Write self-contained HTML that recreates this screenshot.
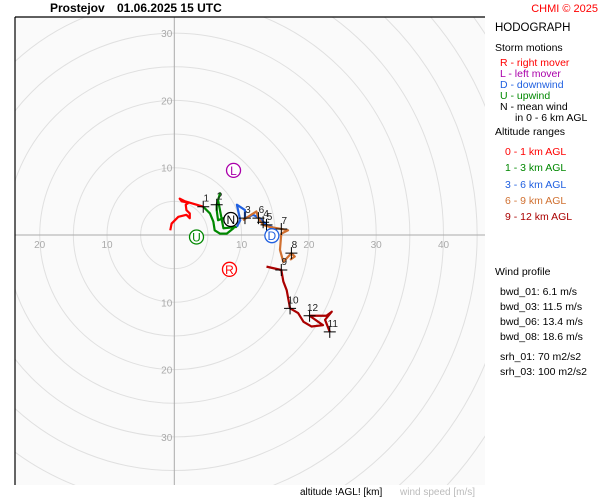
<!DOCTYPE html>
<html><head><meta charset="utf-8"><style>
html,body{margin:0;padding:0;background:#fff;font-family:"Liberation Sans",sans-serif;width:600px;height:500px;overflow:hidden}
svg{display:block}
svg text{font-family:"Liberation Sans",sans-serif}
</style></head><body>
<svg id="c" width="600" height="500" viewBox="0 0 600 500">
<defs><clipPath id="pc"><rect x="15" y="17" width="470" height="468"/></clipPath></defs>
<rect x="0" y="0" width="600" height="500" fill="#fff"/>
<rect x="15" y="17" width="470" height="468" fill="#fafafa"/>
<g id="rings" clip-path="url(#pc)"></g>
<g id="axes"></g>
<g id="series" clip-path="url(#pc)"></g>
<g id="marks"></g>
<line x1="15" y1="17" x2="15" y2="485" stroke="#000" stroke-width="1.2"/>
<line x1="15" y1="17" x2="485" y2="17" stroke="#000" stroke-width="1.2"/>
<text x="50" y="12" font-size="12" font-weight="bold">Prostejov</text>
<text x="117" y="12" font-size="12" font-weight="bold">01.06.2025 15 UTC</text>
<text x="598" y="12" font-size="11" fill="#f00" text-anchor="end">CHMI © 2025</text>
<g font-size="10.5">
<text x="495" y="31" font-size="11.5">HODOGRAPH</text>
<text x="495" y="51">Storm motions</text>
<text x="500" y="66" fill="#f00">R - right mover</text>
<text x="500" y="77" fill="#a0a">L - left mover</text>
<text x="500" y="88" fill="#2060e0">D - downwind</text>
<text x="500" y="99" fill="#080">U - upwind</text>
<text x="500" y="110">N - mean wind</text>
<text x="515" y="121">in 0 - 6 km AGL</text>
<text x="495" y="135">Altitude ranges</text>
<text x="505" y="155" fill="#f00">0 - 1 km AGL</text>
<text x="505" y="171" fill="#080">1 - 3 km AGL</text>
<text x="505" y="188" fill="#2060e0">3 - 6 km AGL</text>
<text x="505" y="204" fill="#d07030">6 - 9 km AGL</text>
<text x="505" y="220" fill="#a00">9 - 12 km AGL</text>
<text x="495" y="275">Wind profile</text>
<text x="500" y="295">bwd_01: 6.1 m/s</text>
<text x="500" y="310">bwd_03: 11.5 m/s</text>
<text x="500" y="325">bwd_06: 13.4 m/s</text>
<text x="500" y="340">bwd_08: 18.6 m/s</text>
<text x="500" y="360">srh_01: 70 m2/s2</text>
<text x="500" y="375">srh_03: 100 m2/s2</text>
</g>
<text x="300" y="495" font-size="10">altitude !AGL! [km]</text>
<text x="400" y="495" font-size="10" fill="#bbb">wind speed [m/s]</text>
</svg>
<script>
const ringSpeeds=[5,10,15,20,25,30,35,40,45,50,55,60,65,70];
const axisTicks=[10,20,30];
const xTickLabels=[-20,-10,10,20,30,40];
const seg01=[[-0.6,0.7],[-0.4,1.7],[0.6,2.7],[1.8,3.0],[2.3,2.5],[2.3,3.2],[1.8,3.7],[1.7,4.5],[2.1,4.8],[1.1,5.0],[0.8,5.4],[1.6,5.0],[4.3,4.2]];
const seg13=[[4.3,4.2],[5.3,3.2],[5.8,2.0],[6.0,0.7],[6.8,0.2],[7.8,0.2],[8.8,1.0],[8.3,2.0],[7.3,2.5],[6.5,2.2],[6.3,3.7],[6.3,4.5],[6.8,6.2],[6.5,5.2],[7.3,1.0],[9.3,1.2]];
const seg36=[[9.3,1.2],[9.8,2.2],[9.3,4.5],[10.5,3.7],[10.5,2.5],[11.7,3.0],[12.7,2.5],[13.7,1.5],[14.5,1.2],[14.0,0.6]];
const seg69=[[10.2,2.2],[12.2,3.5],[12.5,2.5],[13.2,1.5],[14.2,1.2],[15.9,0.9],[16.9,0.7],[15.9,0.2],[15.7,-2.2],[16.2,-4.0],[17.4,-2.7],[17.9,-3.2],[17.2,-3.7]];
const seg912=[[13.7,-4.7],[15.9,-5.2],[16.2,-6.9],[16.7,-8.2],[17.2,-10.9],[18.4,-11.6],[19.2,-12.9],[20.4,-13.6],[22.1,-13.4],[20.1,-12.0],[22.6,-12.0],[23.4,-11.4],[22.4,-12.6],[23.1,-14.4]];
const levelLabels=["1","2","3","4","5","6","7","8","9","10","11","12"];
const levelU=[4.3,6.3,10.5,13.2,13.7,12.5,15.9,17.4,15.9,17.2,23.1,20.1];
const levelV=[4.2,4.5,2.5,1.9,1.5,2.5,0.9,-2.7,-5.2,-10.9,-14.4,-12.0];
const stormNames=["L","U","R","N","D"];
const stormU=[8.8,3.3,8.2,8.4,14.5];
const stormV=[9.6,-0.3,-5.1,2.3,-0.1];
const stormColors=["#a0a","#080","#f00","#000","#2060e0"];

const CX=174.3,CY=235,K=6.73;
const sx=u=>CX+u*K, sy=v=>CY-v*K;
const NS="http://www.w3.org/2000/svg";
function mk(t,a,p){const e=document.createElementNS(NS,t);for(const k in a)e.setAttribute(k,a[k]);p.appendChild(e);return e;}
const rings=document.getElementById('rings');
ringSpeeds.forEach(s=>{const c=mk('circle',{cx:CX,cy:CY,r:s*K,fill:'none',stroke:'#e0e0e0','stroke-width':1},rings);

});
const ax=document.getElementById('axes');
const xa=mk('line',{x1:15,y1:CY,x2:485,y2:CY,stroke:'#aaa'},ax);


const ya=mk('line',{x1:CX,y1:17,x2:CX,y2:485,stroke:'#aaa'},ax);


axisTicks.forEach(t=>{[t,-t].forEach(v=>{const e=mk('text',{x:CX-2,y:sy(v)+4,'font-size':10,fill:'#aaa','text-anchor':'end'},ax);e.textContent=t;

});});
xTickLabels.forEach(t=>{const e=mk('text',{x:sx(t),y:CY+13,'font-size':10,fill:'#aaa','text-anchor':'middle'},ax);e.textContent=Math.abs(t);

});
const ser=document.getElementById('series');
[[seg01,'#f00','hodo-0-1km'],[seg13,'#080','hodo-1-3km'],[seg36,'#2060e0','hodo-3-6km'],[seg69,'#d07030','hodo-6-9km'],[seg912,'#a00','hodo-9-12km']].forEach(([d,c,n])=>{
const p=mk('polyline',{points:d.map(q=>sx(q[0])+','+sy(q[1])).join(' '),fill:'none',stroke:c,'stroke-width':2.2,'stroke-linejoin':'round'},ser);

});
const mg=document.getElementById('marks');
levelLabels.forEach((l,i)=>{const x=sx(levelU[i]),y=sy(levelV[i]);
const g=mk('g',{},mg);


mk('path',{d:`M${x-6},${y}H${x+6}M${x},${y-6}V${y+6}`,stroke:'#000','stroke-width':1},g);
const t=mk('text',{x:x+3,y:y-5,'font-size':10,fill:'#222','text-anchor':'middle'},g);t.textContent=l;});
stormNames.forEach((n,i)=>{const x=sx(stormU[i]),y=sy(stormV[i]);
const g=mk('g',{},mg);


mk('circle',{cx:x,cy:y,r:7,fill:'#fff',stroke:stormColors[i],'stroke-width':1.3},g);
const t=mk('text',{x:x,y:y+4.5,'font-size':12,fill:stormColors[i],'text-anchor':'middle'},g);t.textContent=n;});
</script>
</body></html>
